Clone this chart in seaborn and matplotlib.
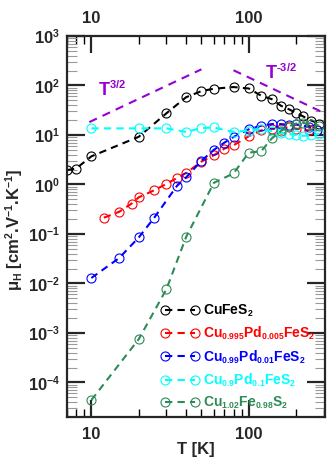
import matplotlib
matplotlib.use("Agg")
import matplotlib.pyplot as plt
import matplotlib._mathtext as mathtext_internals
import seaborn as sns
import numpy as np
from matplotlib.ticker import FixedLocator, LogLocator, FuncFormatter, NullFormatter

# slightly smaller sub/superscripts for the chemical formulas
mathtext_internals.SHRINK_FACTOR = 0.62

# Hall mobility vs temperature for each composition
T_cufes2 = [7, 8, 10, 20, 30, 40, 50, 60, 80, 100, 120, 140, 160, 180, 200, 220, 250, 280]
mu_cufes2 = [1.95, 2.1, 3.7, 9.2, 27.5, 58, 77, 86, 93, 87, 62, 53, 39, 33, 28, 24, 19.5, 17]

T_pd0005 = [12, 15, 18, 20, 25, 30, 35, 40, 50, 60, 70, 80, 100, 120, 140, 160, 180, 200, 240, 270]
mu_pd0005 = [0.213, 0.28, 0.41, 0.55, 0.76, 1.03, 1.35, 1.7, 2.9, 3.9, 5.3, 6.2, 9.4, 12.4, 13.4, 13.4,
             14.5, 13.4, 12.4, 12.8]

T_pd001 = [10, 15, 20, 25, 35, 40, 50, 60, 70, 80, 100, 120, 140, 160, 180, 200, 240, 270]
mu_pd001 = [0.0129, 0.0325, 0.085, 0.21, 0.94, 1.39, 3.0, 5.0, 7.0, 9.1, 13, 15.4, 16.6, 16.6, 16,
            16.4, 14.5, 12.4]

T_pd01 = [10, 20, 30, 40, 50, 60, 80, 100, 120, 140, 160, 180, 200, 220, 250, 280]
mu_pd01 = [13.6, 13.6, 13.6, 11.5, 13.8, 14.2, 11.5, 12.3, 13, 12, 11, 10.5, 10, 9.6, 9.8, 10.5]

T_cu102 = [10, 20, 30, 40, 60, 80, 100, 120, 140, 160, 180, 200, 220, 250, 280]
mu_cu102 = [4.4e-5, 7.5e-4, 7.7e-3, 0.087, 1.08, 1.67, 4.4, 4.7, 8.5, 12, 15, 17, 17.5, 16.5, 15.5]

series_labels = [r"$CuFeS_2$",
                 r"$Cu_{0.995}Pd_{0.005}FeS_2$",
                 r"$Cu_{0.99}Pd_{0.01}FeS_2$",
                 r"$Cu_{0.9}Pd_{0.1}FeS_2$",
                 r"$Cu_{1.02}Fe_{0.98}S_2$"]

# Axis ticks
x_major_ticks = [10, 100]
y_major_ticks = [1e-4, 1e-3, 1e-2, 1e-1, 1e0, 1e1, 1e2, 1e3]

# Power-law guide lines
guide_lo_T = [9.7, 50]
guide_lo_mu = [18.2, 212]
guide_hi_T = [80, 320]
guide_hi_mu = [203, 25.4]

sns.set_theme(style="ticks")
plt.rcParams.update({
    "font.family": ["Liberation Sans", "DejaVu Sans"],
    "font.weight": "bold",
    "mathtext.fontset": "custom",
    "mathtext.rm": "Liberation Sans:bold",
    "mathtext.it": "Liberation Sans:bold:italic",
    "mathtext.bf": "Liberation Sans:bold",
    "mathtext.sf": "Liberation Sans:bold",
    "mathtext.default": "bf",
    "axes.linewidth": 1.6,
})

fig = plt.figure(figsize=(3.28, 4.62), dpi=100)
ax = fig.add_axes([67 / 328, 45 / 462, 258 / 328, 381 / 462])

colors = ["#000000", "#ff0000", "#0000ff", "#00ffff", "#2e8b57"]
datasets = [(T_cufes2, mu_cufes2), (T_pd0005, mu_pd0005), (T_pd001, mu_pd001),
            (T_pd01, mu_pd01), (T_cu102, mu_cu102)]

for (t, m), c, lab in zip(datasets, colors, series_labels):
    sns.lineplot(x=t, y=m, ax=ax, color=c, label=lab, estimator=None, sort=False,
                 marker="o", markersize=6.5, markerfacecolor="none", markeredgecolor=c,
                 markeredgewidth=0.8, linewidth=1.5, linestyle=(0, (3.5, 2.5)))

sns.lineplot(x=guide_lo_T, y=guide_lo_mu, ax=ax, color="#9400d3", linewidth=1.5,
             linestyle=(0, (4, 3)), estimator=None, sort=False)
sns.lineplot(x=guide_hi_T, y=guide_hi_mu, ax=ax, color="#9400d3", linewidth=1.5,
             linestyle=(0, (4, 3)), estimator=None, sort=False)

ax.text(13.5, 78, r"$T^{3/2}$", color="#9400d3", fontsize=13, ha="center", va="center")
ax.text(160, 175, r"$T^{\text{-}3/2}$", color="#9400d3", fontsize=13, ha="center", va="center")

ax.set_xscale("log")
ax.set_yscale("log")
ax.set_xlim(7, 305)
ax.set_ylim(2e-5, 1e3)

ax.xaxis.set_major_locator(FixedLocator(x_major_ticks))
ax.xaxis.set_minor_locator(LogLocator(base=10, subs=np.arange(2, 10), numticks=20))
ax.xaxis.set_major_formatter(FuncFormatter(lambda v, p: "%g" % v))
ax.xaxis.set_minor_formatter(NullFormatter())
ax.yaxis.set_major_locator(FixedLocator(y_major_ticks))
ax.yaxis.set_minor_locator(LogLocator(base=10, subs=np.arange(2, 10), numticks=40))
ax.yaxis.set_major_formatter(FuncFormatter(lambda v, p: r"$10^{%d}$" % round(np.log10(v))))
ax.yaxis.set_minor_formatter(NullFormatter())

ax.tick_params(axis="x", which="major", direction="in", length=12, width=1.6,
               top=True, bottom=True, labeltop=True, labelbottom=True, labelsize=12, pad=7)
ax.tick_params(axis="x", which="minor", direction="in", length=6, width=1.0,
               top=True, bottom=True, color="black")
ax.tick_params(axis="y", which="major", direction="in", length=13, width=1.6,
               left=True, right=True, labelsize=12, pad=5)
ax.tick_params(axis="y", which="minor", direction="in", length=7, width=0.8,
               left=True, right=True, color="#9a9a9a")

ax.set_xlabel("T [K]", fontsize=12, fontweight="bold", labelpad=0)
ax.set_ylabel(r"$\mu_H$ [cm$^2$.V$^{-1}$.K$^{-1}$]", fontsize=12, fontweight="bold")
ax.yaxis.set_label_coords(-0.163, 0.49)

handles, labels = ax.get_legend_handles_labels()
ax.legend(handles[:5], labels[:5], loc="upper left", bbox_to_anchor=(0.363, 0.30),
          frameon=False, numpoints=2, handlelength=2.76, handletextpad=0.27,
          labelspacing=0.42, borderpad=0, borderaxespad=0, labelcolor="linecolor",
          prop={"weight": "bold", "size": 10})

fig.savefig("out.png", dpi=100)
